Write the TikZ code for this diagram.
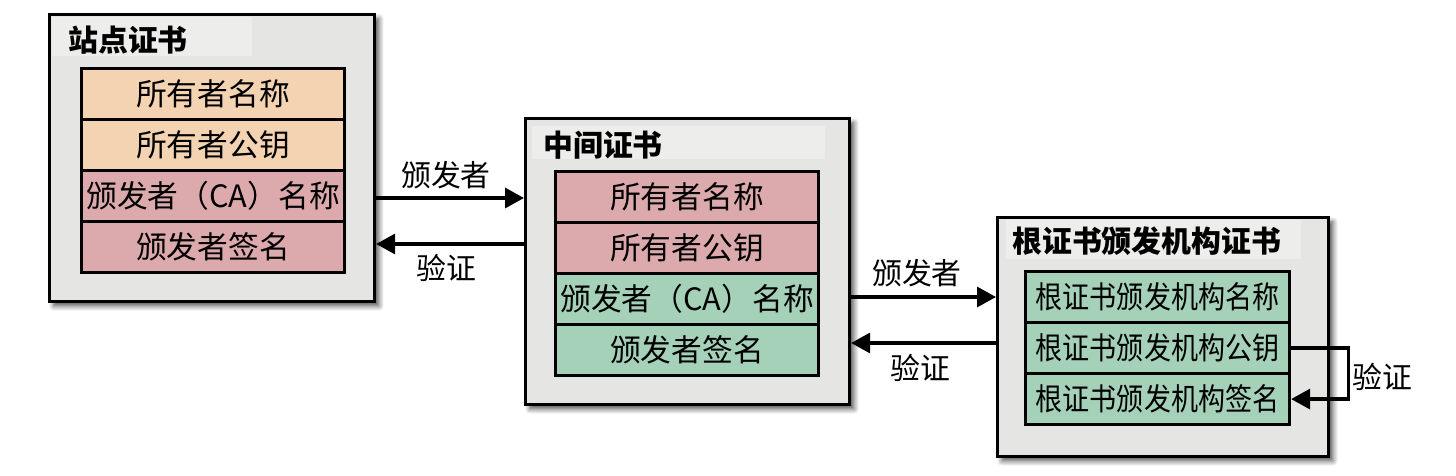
\documentclass[tikz,border=0pt]{standalone}
\usepackage{fontspec}
\setmainfont{Noto Sans CJK SC}
\usepackage{graphicx}
\usetikzlibrary{arrows.meta,shadows.blur}
\definecolor{peach}{HTML}{F3D3B1}
\definecolor{pinkrow}{HTML}{DCAAAC}
\definecolor{greenrow}{HTML}{A5D1B9}
\definecolor{boxfill}{HTML}{E5E5E3}
\definecolor{titlefill}{HTML}{EDEDEC}
\begin{document}
\begin{tikzpicture}[x=0.02cm,y=-0.02cm,
  certbox/.style={draw=black,line width=1.8pt,fill=boxfill,anchor=north west,inner sep=0pt,
    blur shadow={shadow xshift=2.5pt,shadow yshift=-2.5pt,shadow blur steps=6,shadow blur radius=3pt,shadow opacity=70}},
  titlestrip/.style={fill=titlefill,anchor=north west,inner sep=0pt},
  titletext/.style={anchor=west,inner sep=0pt,font=\fontsize{17}{20}\selectfont\bfseries},
  row/.style={draw=black,line width=1.8pt,anchor=north west,inner sep=0pt,minimum width=5.26cm,minimum height=1.02cm,font=\fontsize{17.5}{20}\selectfont},
  lbl/.style={inner sep=0pt,font=\fontsize{17}{20}\selectfont},
  arr/.style={line width=1.8pt,-{Triangle[length=0.38cm,width=0.4cm]}}
]
\useasboundingbox (0,0) rectangle (1456,476);
% box 1
\node[certbox,minimum width=6.5cm,minimum height=5.74cm] (b1) at (48,13) {};
\node[titlestrip,minimum width=4cm,minimum height=0.78cm] (t1s) at (52,17) {};
\node[titletext] (t1) at (68,40) {站点证书};
\node[row,fill=peach] (r11) at (80,67) {所有者名称};
\node[row,fill=peach] (r12) at (80,118) {所有者公钥};
\node[row,fill=pinkrow] (r13) at (80,169) {颁发者（CA）名称};
\node[row,fill=pinkrow] (r14) at (80,220) {颁发者签名};
% box 2
\node[certbox,minimum width=6.48cm,minimum height=5.72cm] (b2) at (524,117) {};
\node[titlestrip,minimum width=5.86cm,minimum height=0.66cm] (t2s) at (532,126) {};
\node[titletext] (t2) at (543,145) {中间证书};
\node[row,fill=pinkrow] (r21) at (554,170) {所有者名称};
\node[row,fill=pinkrow] (r22) at (554,221) {所有者公钥};
\node[row,fill=greenrow] (r23) at (554,272) {颁发者（CA）名称};
\node[row,fill=greenrow] (r24) at (554,323) {颁发者签名};
% box 3
\node[certbox,minimum width=6.62cm,minimum height=4.78cm] (b3) at (996,216) {};
\node[titlestrip,minimum width=5.9cm,minimum height=0.78cm] (t3s) at (1006,220) {};
\node[titletext] (t3) at (1012,241) {根证书颁发机构证书};
\node[row,fill=greenrow,minimum width=5.28cm] (r31) at (1024,270) {\scalebox{0.88}[1]{根证书颁发机构名称}};
\node[row,fill=greenrow,minimum width=5.28cm] (r32) at (1024,321) {\scalebox{0.88}[1]{根证书颁发机构公钥}};
\node[row,fill=greenrow,minimum width=5.28cm] (r33) at (1024,372) {\scalebox{0.88}[1]{根证书颁发机构签名}};
% arrows
\coordinate (y1) at (0,198);
\coordinate (y2) at (0,244);
\coordinate (y3) at (0,297);
\coordinate (y4) at (0,343);
\draw[arr] (b1.east |- y1) -- (b2.west |- y1);
\draw[arr] (b2.west |- y2) -- (b1.east |- y2);
\draw[arr] (b2.east |- y3) -- (b3.west |- y3);
\draw[arr] (b3.west |- y4) -- (b2.east |- y4);
\node[lbl] (l1) at (446,175) {颁发者};
\node[lbl] (l2) at (446,268) {验证};
\node[lbl] (l3) at (917,273) {颁发者};
\node[lbl] (l4) at (920,368) {验证};
\draw[arr] (r32.east) -- ++(57,0) |- (r33.east);
\node[lbl] (l5) at (1382,377) {验证};
\end{tikzpicture}
\end{document}
